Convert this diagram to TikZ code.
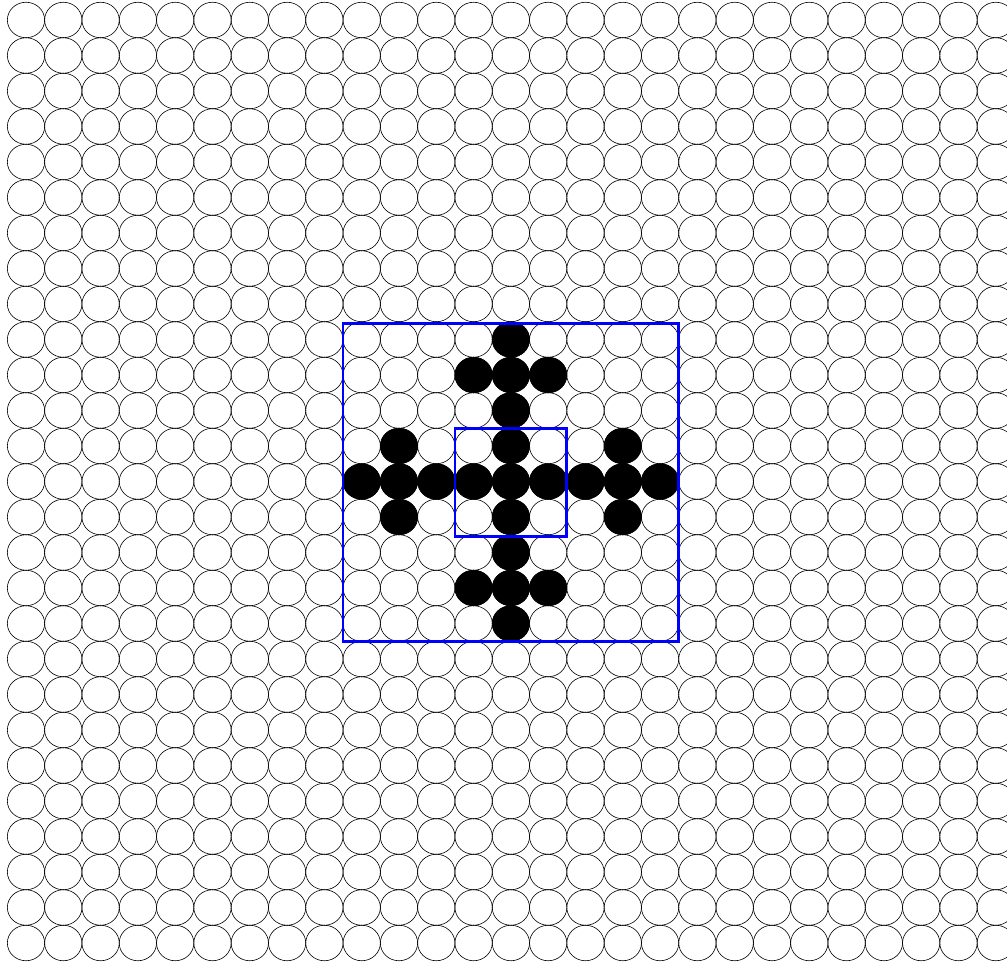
\documentclass[tikz,border=0pt]{standalone}
\usepackage{tikz}
\usetikzlibrary{shapes.geometric,calc}

\begin{document}
\begin{tikzpicture}[x=1pt, y=-1pt, cell/.style={draw=black, ellipse, line width=0.6pt, minimum width=37.3pt, minimum height=35.5pt, inner sep=0pt, outer sep=0pt}, dot/.style={cell, fill=black}, window/.style={draw=blue, line width=2.8pt}]
\useasboundingbox (0,0) rectangle (1007,963);
% the 27 x 27 grid of cells
\foreach \r in {0,...,26}
  \foreach \c in {0,...,26}
    \node[cell] (c-\c-\r) at ({26+37.3*\c},{20+35.5*\r}) {};
% black cells of the pattern
\foreach \c/\r in {13/9, 12/10, 13/10, 14/10, 13/11, 10/12, 13/12, 16/12, 9/13, 10/13, 11/13, 12/13, 13/13, 14/13, 15/13, 16/13, 17/13, 10/14, 13/14, 16/14, 13/15, 12/16, 13/16, 14/16, 13/17}
  \node[dot] (b-\c-\r) at (c-\c-\r) {};
% outer and inner window
\draw[window] ($(c-9-9.west |- c-9-9.north)+(0,2)$) rectangle (c-17-17.east |- c-17-17.south);
\draw[window] (c-12-12.west |- c-12-12.north) rectangle ($(c-14-14.east |- c-14-14.south)+(0,2)$);
\end{tikzpicture}
\end{document}
